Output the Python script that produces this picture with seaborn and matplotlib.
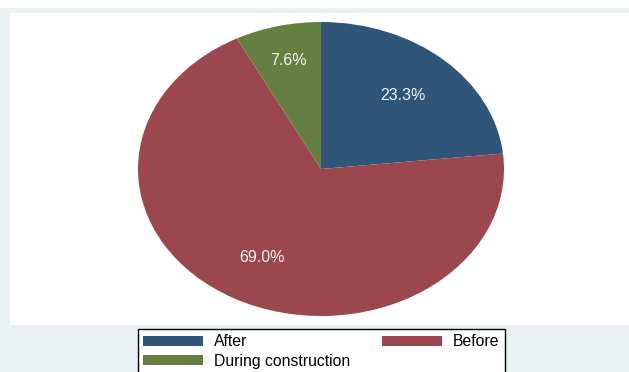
import matplotlib
matplotlib.use("Agg")
import numpy as np
import matplotlib.pyplot as plt
from matplotlib.patches import Rectangle
import seaborn as sns

categories = ["After", "Before", "During construction"]
shares = [23.3, 69.0, 7.6]
colors = ["#2F5679", "#9B474D", "#647F3F"]
label_dist = [0.67, 0.68, 0.76]

sns.set_theme(style="white")
plt.rcParams["font.family"] = ["Liberation Sans", "DejaVu Sans"]
palette = sns.color_palette(colors)

W, H = 629, 372
fig = plt.figure(figsize=(W / 100, H / 100), dpi=100)
fig.patch.set_facecolor("#EAF1F3")

def px_rect(x0, y0, x1, y1, color):
    fig.patches.append(Rectangle((x0 / W, 1 - y1 / H), (x1 - x0) / W, (y1 - y0) / H,
                                 transform=fig.transFigure, facecolor=color,
                                 edgecolor="none", zorder=-10))

px_rect(0, 0, W, 8, "white")
px_rect(10, 13, W, 325, "white")

ax = fig.add_axes([138 / W, 1 - 316 / H, 366 / W, 294 / H])
ax.set_zorder(5)
ax.patch.set_alpha(0)
vals = iter(shares)
wedges, texts, autotexts = ax.pie(
    shares, colors=palette, startangle=90, counterclock=False,
    autopct=lambda p: f"{next(vals):.1f}%", pctdistance=0.67,
    wedgeprops=dict(linewidth=0),
    textprops=dict(color="#F2F2F2", fontsize=11.5),
)
for w, t, d in zip(wedges, autotexts, label_dist):
    ang = np.deg2rad((w.theta1 + w.theta2) / 2)
    t.set_position((d * np.cos(ang), d * np.sin(ang)))
ax.set_aspect("auto")
ax.set_xlim(-1, 1)
ax.set_ylim(-1, 1)
ax.axis("off")

order = [0, 2, 1]
leg = fig.legend([wedges[i] for i in order], [categories[i] for i in order],
                 ncol=2, loc="upper left", mode="expand",
                 bbox_to_anchor=(138 / W, 1 - 329 / H, 367 / W, 0),
                 fontsize=11.3, handlelength=3.8, handleheight=0.6,
                 labelspacing=0.28, borderpad=0.35, handletextpad=0.7,
                 frameon=True, fancybox=False, borderaxespad=0,
                 framealpha=1, labelcolor="black")
leg.get_frame().set_edgecolor("black")
leg.get_frame().set_linewidth(1.0)
leg.get_frame().set_facecolor("white")
leg.set_zorder(10)

fig.savefig("out.png", dpi=100, facecolor=fig.get_facecolor())
